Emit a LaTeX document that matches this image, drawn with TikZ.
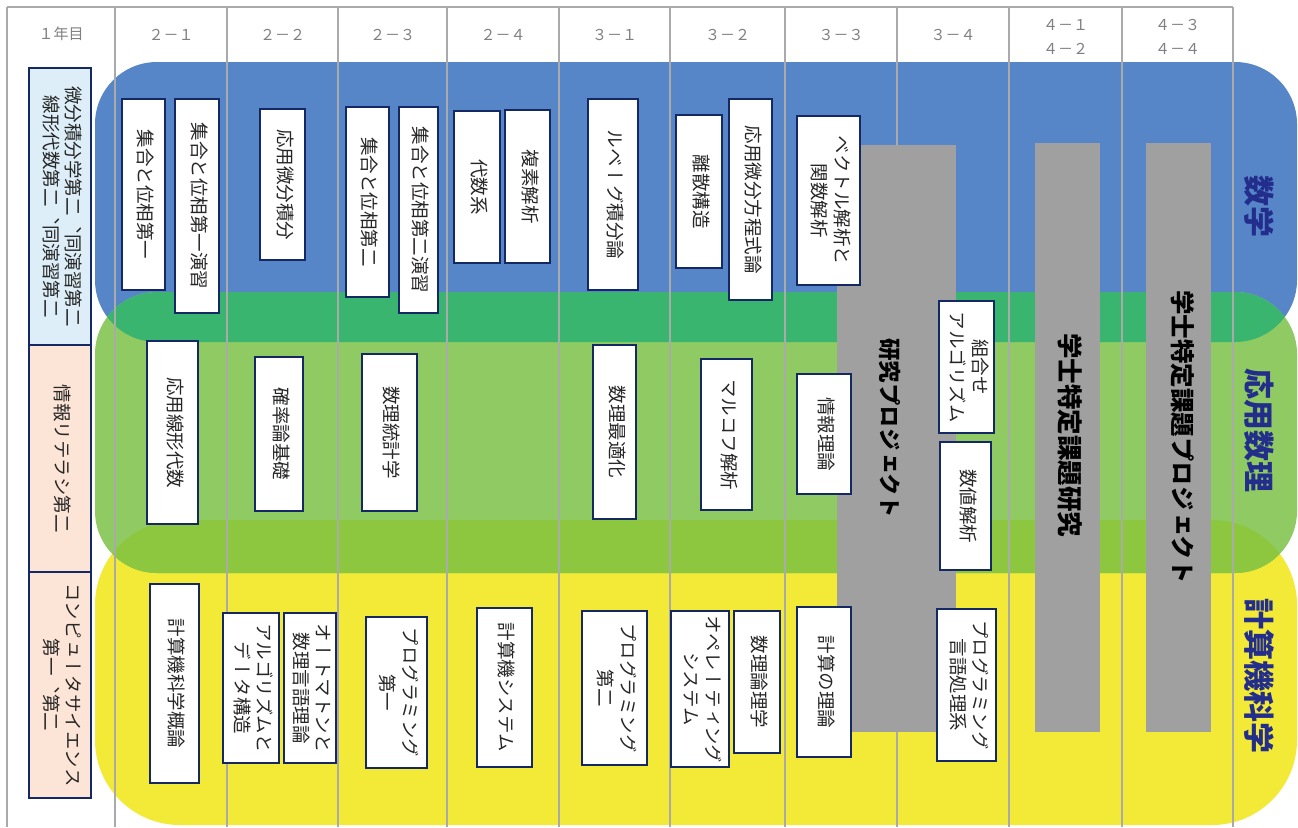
\documentclass[tikz,border=0pt]{standalone}
\usepackage{fontspec}
\newfontfamily\jp{Noto Sans CJK JP}
\newfontfamily\vjp[Vertical=RotatedGlyphs]{Noto Sans CJK JP}
\definecolor{blueband}{RGB}{86,134,199}
\definecolor{tealband}{RGB}{58,181,112}
\definecolor{greenband}{RGB}{143,203,98}
\definecolor{ygband}{RGB}{141,198,63}
\definecolor{yellowband}{RGB}{242,234,55}
\definecolor{barcol}{RGB}{160,160,160}
\definecolor{gridcol}{RGB}{170,170,170}
\definecolor{navytext}{RGB}{35,45,140}
\definecolor{boxline}{RGB}{20,40,100}
\definecolor{lblue}{RGB}{221,238,248}
\definecolor{peach}{RGB}{252,228,214}
\newcommand\vt[1]{\rotatebox{-90}{\begin{tabular}{@{}c@{}}#1\end{tabular}}}
\newcommand\cb[7][white]{\node[cbox, fill=#1, minimum width={#5-#3}, minimum height={#6-#4}] (#2) at ({(#3+#5)/2},{(#4+#6)/2}) {\vt{#7}};}
\tikzset{
  cbox/.style={draw=boxline, line width=2.4pt, inner sep=0pt, outer sep=0pt,
    font=\vjp\fontsize{18.5}{22}\selectfont, text=black!85},
  gridline/.style={draw=gridcol, line width=2pt},
  hdr/.style={font=\jp\fontsize{15}{24}\selectfont, text=black!50, align=center, inner sep=0pt},
  barbox/.style={fill=barcol, draw=none, inner sep=0pt, outer sep=0pt},
  bartext/.style={font=\vjp\bfseries\fontsize{#1}{#1}\selectfont, text=black, inner sep=0pt},
  sidelabel/.style={font=\vjp\bfseries\fontsize{31}{31}\selectfont, text=navytext, inner sep=0pt},
}
\begin{document}
\begin{tikzpicture}[x=1pt,y=-1pt]
\useasboundingbox (0,0) rectangle (1298,827);
\fill[white] (0,0) rectangle (1298,827);
% bands
\def\bluepath{(95,62) rectangle (1297,342)}
\def\greenpath{(95,292) rectangle (1297,573)}
\def\yellowpath{(95,520) rectangle (1297,825)}
\fill[blueband, rounded corners=62] \bluepath;
\fill[yellowband, rounded corners=85] \yellowpath;
\fill[greenband, rounded corners=62] \greenpath;
\begin{scope}
  \clip[rounded corners=62] \bluepath;
  \fill[tealband, rounded corners=62] \greenpath;
\end{scope}
\begin{scope}
  \clip[rounded corners=85] \yellowpath;
  \fill[ygband, rounded corners=62] \greenpath;
\end{scope}
% grid
\draw[gridline] (7,7) -- (1233,7);
\foreach \gx in {7,115,227,338,447,559,670,785,897,1009,1122,1233}
  \draw[gridline] (\gx,7) -- (\gx,827);
% headers
\node[hdr] (h0) at (61,34) {１年目};
\node[hdr] (h1) at (171,35) {２－１};
\node[hdr] (h2) at (282.5,35) {２－２};
\node[hdr] (h3) at (392.5,35) {２－３};
\node[hdr] (h4) at (503,35) {２－４};
\node[hdr] (h5) at (614.5,35) {３－１};
\node[hdr] (h6) at (727.5,35) {３－２};
\node[hdr] (h7) at (841,35) {３－３};
\node[hdr] (h8) at (953,35) {３－４};
\node[hdr] (h9) at (1065.5,37) {４－１\\４－２};
\node[hdr] (h10) at (1177.5,37) {４－３\\４－４};
% gray bars
\node[barbox, minimum width=119, minimum height=587] (g1) at (896.5,438.5) {};
\node[barbox, minimum width=65, minimum height=589] (g2) at (1067.5,437.5) {};
\node[barbox, minimum width=65, minimum height=589] (g3) at (1178.5,437.5) {};
\node[bartext=22.5] (g1t) at (888,428) {\vt{研究プロジェクト}};
\node[bartext=25.5] (g2t) at (1068,435) {\vt{学士特定課題研究}};
\node[bartext=24.5] (g3t) at (1180,437) {\vt{学士特定課題プロジェクト}};
% first-year boxes
\cb[lblue]{y1}{29}{68}{91}{345}{微分積分学第二、同演習第二\\線形代数第二、同演習第二}
\cb[peach]{y2}{29}{345}{91}{572}{情報リテラシ第二}
\cb[peach]{y3}{29}{572}{91}{798}{コンピュータサイエンス\\第一、第二}
% mathematics
\cb{m1}{122}{99}{165}{290}{集合と位相第一}
\cb{m2}{175}{99}{219}{313}{集合と位相第一演習}
\cb{m3}{260}{109}{305}{260}{応用微分積分}
\cb{m4}{346}{107}{389}{297}{集合と位相第二}
\cb{m5}{399}{107}{438}{313}{集合と位相第二演習}
\cb{m6}{454}{111}{500}{263}{代数系}
\cb{m7}{505}{110}{550}{263}{複素解析}
\cb{m8}{588}{99}{638}{290}{ルベーグ積分論}
\cb{m9}{676}{115}{722}{268}{離散構造}
\cb{m10}{729}{99}{772}{300}{応用微分方程式論}
\cb{m11}{797}{116}{860}{285}{ベクトル解析と\\関数解析}
% applied mathematics
\cb{a1}{147}{341}{198}{524}{応用線形代数}
\cb{a2}{255}{357}{303}{511}{確率論基礎}
\cb{a3}{362}{354}{417}{511}{数理統計学}
\cb{a4}{593}{345}{636}{519}{数理最適化}
\cb{a5}{701}{359}{752}{510}{マルコフ解析}
\cb{a6}{797}{374}{851}{494}{情報理論}
\cb{a7}{939}{301}{994}{433}{組合せ\\アルゴリズム}
\cb{a8}{940}{442}{991}{570}{数値解析}
% computer science
\cb{c1}{150}{584}{199}{783}{計算機科学概論}
\cb{c2}{223}{613}{279}{763}{アルゴリズムと\\データ構造}
\cb{c3}{284}{613}{336}{763}{オートマトンと\\数理言語理論}
\cb{c4}{366}{617}{427}{768}{プログラミング\\第一}
\cb{c5}{477}{608}{532}{767}{計算機システム}
\cb{c6}{582}{611}{647}{765}{プログラミング\\第二}
\cb{c7}{671}{611}{729}{767}{オペレーティング\\システム}
\cb{c8}{734}{611}{780}{753}{数理論理学}
\cb{c9}{797}{607}{851}{757}{計算の理論}
\cb{c10}{937}{609}{996}{761}{プログラミング\\言語処理系}
% side labels
\node[sidelabel] (s1) at (1256,206) {\vt{数学}};
\node[sidelabel] (s2) at (1256,430) {\vt{応用数理}};
\node[sidelabel] (s3) at (1256,676) {\vt{計算機科学}};
\end{tikzpicture}
\end{document}
